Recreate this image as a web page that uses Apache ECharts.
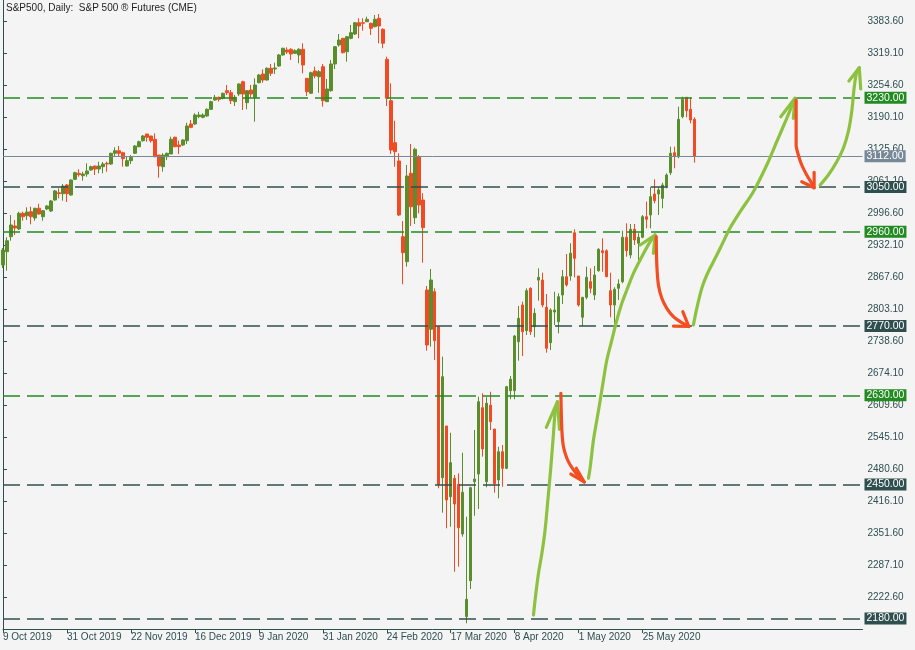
<!DOCTYPE html>
<html><head><meta charset="utf-8">
<script src="https://cdn.jsdelivr.net/npm/echarts@6/dist/echarts.min.js"></script>
<style>html,body{margin:0;padding:0;background:#f4f4f4;}#c{width:915px;height:650px;}</style>
</head><body><div id="c"></div>
<script>
// ---------- DATA ----------
const startDate = '2019-10-09';
const skippedDays = ['2019-12-25', '2020-01-01', '2020-04-10'];
const candleCount = 174;
const totalSlots = 216;
const dateTickEvery = 16;

const opens = [2892.8,2919.6,2949.9,2971.5,2965.4,2997.1,2992.2,3000.3,2987.6,3007.2,
2990.2,3005.8,3001.7,3023.9,3038.5,3036.6,3054.2,3034.0,3065.6,3077.8,
3072.9,3076.3,3084.4,3092.5,3086.4,3091.1,3097.9,3096.5,3118.1,3123.3,
3119.3,3092.5,3103.2,3118.1,3131.4,3143.5,3157.0,3153.0,3146.3,3114.6,
3091.1,3111.2,3116.7,3150.4,3134.8,3134.8,3143.5,3177.2,3177.2,3192.0,
3190.7,3193.3,3206.8,3225.6,3231.0,3229.0,3244.4,3240.3,3222.2,3237.7,
3262.5,3220.2,3245.8,3231.0,3260.5,3278.1,3265.9,3289.5,3288.1,3294.2,
3316.4,3326.5,3327.9,3319.7,3316.4,3327.9,3269.4,3239.1,3284.1,3272.6,
3292.8,3222.2,3244.4,3298.2,3336.5,3350.0,3323.0,3350.0,3358.7,3381.5,
3381.5,3383.5,3380.3,3373.5,3390.4,3368.2,3307.7,3224.2,3139.5,3102.6,
2949.9,2899.5,3077.8,2988.2,3111.2,3023.9,2842.4,2763.1,2839.0,2768.3,
2463.8,2568.1,2425.5,2462.6,2450.5,2350.2,2183.5,2256.0,2455.7,2471.2,
2605.0,2455.7,2610.0,2562.0,2459.2,2516.2,2482.7,2639.3,2639.3,2738.1,
2812.1,2760.3,2845.8,2768.3,2862.3,2862.5,2807.5,2736.1,2798.0,2778.4,
2832.3,2869.2,2870.6,2957.9,2870.6,2787.3,2827.7,2859.1,2832.3,2881.3,
2921.5,2921.5,2841.0,2812.1,2845.8,2859.1,2948.7,2913.0,2964.8,2936.6,
2948.7,2990.2,2993.6,3036.0,3036.0,3027.3,3052.1,3079.0,3119.3,3111.2,
3191.9,3231.0,3206.8,3186.7];

const closes = [2923.0,2941.8,2973.5,2967.4,2997.1,2990.2,2999.7,2990.2,3007.2,2995.7,
3002.3,3011.8,3021.9,3042.1,3037.0,3052.1,3036.6,3064.2,3079.0,3074.9,
3076.3,3082.4,3091.1,3086.4,3092.5,3096.5,3096.5,3118.1,3123.3,3118.1,
3107.2,3103.2,3110.0,3132.8,3141.5,3153.0,3150.4,3143.5,3111.2,3092.5,
3114.6,3118.1,3146.3,3131.4,3131.4,3145.0,3173.2,3170.5,3195.4,3195.4,
3195.4,3206.8,3222.2,3231.0,3227.0,3239.1,3240.3,3224.2,3231.0,3257.9,
3237.7,3244.4,3237.7,3255.9,3276.0,3265.9,3289.5,3279.5,3290.2,3316.4,
3329.9,3322.4,3318.4,3325.1,3327.9,3296.2,3242.3,3280.7,3274.0,3282.7,
3224.2,3247.8,3298.2,3333.1,3346.6,3321.0,3353.3,3361.4,3381.5,3374.9,
3380.3,3388.4,3370.2,3388.4,3374.9,3340.0,3229.0,3124.8,3121.3,2993.6,
2917.6,3072.3,3010.4,3126.2,3013.8,2968.0,2731.4,2862.5,2740.1,2450.0,
2667.5,2418.8,2494.1,2410.7,2362.9,2434.3,2218.5,2443.6,2461.0,2617.1,
2521.7,2613.8,2576.7,2452.0,2516.2,2482.7,2647.3,2662.3,2749.6,2785.3,
2758.2,2841.0,2758.2,2795.4,2867.9,2812.1,2724.8,2802.1,2802.0,2828.9,
2869.2,2852.5,2916.4,2906.3,2812.1,2827.7,2868.0,2845.8,2872.6,2924.5,
2917.6,2869.2,2812.1,2843.8,2854.5,2948.7,2921.6,2964.8,2943.2,2948.7,
2990.2,2985.0,3030.6,3022.5,3044.1,3054.2,3074.3,3118.1,3112.6,3186.7,
3227.0,3204.0,3185.3,3112.0];

const lows = [2886.7,2881.3,2941.8,2953.3,2963.4,2982.2,2983.6,2974.9,2982.0,2994.0,
2982.2,3003.7,2999.7,3022.5,3027.3,3022.5,3019.9,3032.6,3064.2,3070.9,
3062.8,3070.9,3083.0,3074.3,3077.8,3077.8,3081.0,3094.5,3111.2,3111.2,
3091.1,3091.1,3096.5,3116.7,3130.2,3141.5,3141.5,3139.5,3110.0,3068.9,
3081.0,3104.6,3116.7,3130.2,3116.7,3132.8,3136.9,3168.5,3175.2,3188.7,
3188.7,3191.9,3205.4,3224.2,3222.2,3227.0,3235.7,3217.5,3213.5,3233.7,
3205.4,3206.8,3231.0,3181.8,3259.3,3260.5,3264.5,3274.0,3278.1,3292.8,
3315.0,3318.4,3306.3,3318.4,3299.6,3279.5,3233.7,3237.7,3269.4,3240.3,
3212.1,3221.6,3242.3,3288.1,3333.1,3319.7,3302.9,3348.0,3356.7,3350.0,
3365.4,3383.5,3356.7,3372.2,3340.0,3329.9,3213.5,3116.7,3091.1,2991.6,
2853.9,2889.4,2971.5,2975.5,2997.1,2897.4,2719.9,2728.0,2701.2,2442.4,
2393.2,2361.7,2364.9,2274.2,2284.3,2344.8,2170.1,2239.3,2387.0,2400.7,
2506.2,2444.4,2560.0,2433.5,2422.2,2445.6,2481.0,2621.9,2621.9,2699.8,
2709.3,2751.6,2751.6,2747.0,2820.8,2807.5,2715.9,2721.4,2771.8,2755.0,
2814.1,2849.1,2861.2,2868.0,2808.7,2769.7,2823.6,2835.7,2822.0,2879.3,
2879.3,2868.0,2787.3,2771.8,2822.2,2855.9,2909.5,2906.3,2933.1,2902.9,
2946.6,2966.8,2966.8,3017.2,2993.6,3007.2,3047.5,3074.3,3087.8,3108.0,
3188.7,3190.7,3178.6,3099.1];

const highs = [2927.0,2948.7,2993.6,2983.6,3000.3,3000.3,3009.2,3010.4,3008.0,3016.4,
3003.7,3013.8,3023.9,3044.1,3047.5,3056.2,3056.2,3065.6,3081.0,3085.8,
3081.0,3097.9,3093.1,3093.0,3101.2,3100.6,3101.2,3119.3,3130.2,3132.9,
3121.3,3111.2,3114.6,3134.8,3143.5,3155.0,3157.0,3153.0,3158.4,3114.6,
3118.1,3119.3,3151.6,3151.6,3143.5,3146.3,3179.8,3185.3,3198.8,3202.0,
3198.8,3208.8,3224.2,3235.7,3232.3,3240.3,3255.9,3245.8,3235.7,3259.3,
3264.5,3245.8,3255.9,3269.4,3278.1,3287.5,3291.6,3298.2,3300.8,3318.4,
3331.1,3331.9,3329.9,3327.9,3329.9,3340.0,3269.4,3282.7,3292.8,3286.1,
3298.2,3268.0,3306.3,3334.5,3358.7,3350.0,3354.7,3376.9,3382.9,3390.4,
3390.4,3393.6,3381.5,3397.0,3399.1,3370.2,3312.9,3259.3,3183.8,3118.1,
2981.5,3094.5,3136.9,3129.4,3114.6,3037.4,2850.4,2884.7,2845.8,2768.3,
2707.9,2568.1,2554.5,2469.2,2472.7,2514.2,2385.1,2445.6,2560.0,2627.2,
2634.0,2626.0,2637.2,2562.0,2526.3,2529.7,2649.0,2668.9,2751.6,2810.1,
2818.8,2845.8,2847.9,2805.5,2886.1,2877.3,2834.3,2805.5,2838.9,2835.7,
2882.7,2915.0,2936.6,2964.8,2870.6,2827.7,2889.4,2886.1,2890.8,2926.5,
2946.6,2924.5,2877.3,2847.9,2863.9,2962.0,2976.9,2975.5,2975.5,2956.8,
2993.6,3020.5,3050.7,3065.6,3049.5,3058.8,3077.8,3131.4,3131.4,3212.1,
3232.3,3231.0,3231.0,3190.7];

const priceTicks = [2222.6,2287.1,2351.6,2416.1,2480.6,2545.1,2609.6,2674.1,2738.6,2803.1,
2867.6,2932.1,2996.6,3061.1,3125.6,3190.1,3254.6,3319.1,3383.6];
const yMin = 2158.6, yMax = 3427.3;

// horizontal levels: value, kind
const levelValues = [3230, 3112, 3050, 2960, 2770, 2630, 2450, 2180];
const levelKinds  = ['support', 'price', 'resist', 'support', 'resist', 'support', 'resist', 'resist'];

// annotation arrows (x = bar index, y = price)
const greenArrow1 = [[132.7,2186.8],[133.1,2217.1],[133.95,2270.9],[134.8,2311.3],[135.6,2358.3],[136.45,2432.3],[137.05,2485.9],[137.7,2553.3],[138.1,2593.7],[138.7,2617.1]];
const greenHead1  = [[135.9,2565.4],[138.7,2617.1],[139.2,2561.4]];
const redArrow1   = [[139.55,2634.0],[139.8,2560.0],[140.2,2526.3],[141.05,2502.9],[141.9,2489.4],[143.1,2475.3],[144.4,2462.6],[145.4,2455.1]];
const redHead1    = [[143.4,2482.8],[145.4,2455.1],[142.05,2471.2]];
const greenArrow2 = [[146.45,2462.6],[146.9,2486.0],[147.7,2539.8],[148.55,2580.2],[149.4,2620.5],[150.2,2661.0],[151.05,2701.2],[152.3,2741.5],[153.55,2781.9],[154.8,2815.5],[156.05,2842.4],[157.7,2876.0],[159.8,2909.6],[161.9,2939.8],[163.1,2953.3]];
const greenHead2  = [[159.4,2933.1],[163.1,2953.3],[162.7,2916.4]];
const redArrow2   = [[163.4,2949.9],[163.55,2892.8],[163.95,2852.5],[164.8,2825.6],[166.05,2805.5],[167.7,2788.5],[169.4,2778.4],[171.55,2768.7]];
const redHead2    = [[170.05,2798.6],[171.55,2768.7],[167.7,2769.7]];
const greenArrow3 = [[172.7,2771.8],[173.55,2805.5],[174.8,2845.8],[176.05,2872.6],[177.7,2899.5],[179.4,2926.5],[181.9,2967.8],[184.4,3000.3],[187.7,3040.6],[191.05,3094.5],[193.55,3141.5],[196.05,3188.7],[198.1,3229.0]];
const greenHead3  = [[194.55,3191.9],[198.1,3229.0],[197.7,3188.7]];
const redArrow3   = [[198.4,3225.6],[198.4,3134.8],[198.95,3114.7],[199.8,3094.5],[201.05,3074.3],[202.3,3057.6],[202.9,3048.7]];
const redHead3    = [[199.8,3060.8],[202.9,3048.7],[202.9,3079.8]];
const greenArrow4 = [[204.4,3054.2],[206.45,3074.3],[208.55,3101.2],[210.2,3128.2],[211.45,3161.7],[212.3,3202.0],[212.9,3249.2],[213.55,3282.7],[214.2,3290.8]];
const greenHead4  = [[211.6,3263.9],[214.2,3290.8],[214.55,3247.8]];

// ---------- BUILD ----------
const MONTHS = ['Jan','Feb','Mar','Apr','May','Jun','Jul','Aug','Sep','Oct','Nov','Dec'];
function buildDates() {
  const out = [];
  const d = new Date(startDate + 'T00:00:00Z');
  while (out.length < candleCount) {
    const wd = d.getUTCDay();
    const iso = d.toISOString().slice(0, 10);
    if (wd !== 0 && wd !== 6 && skippedDays.indexOf(iso) < 0) {
      out.push(d.getUTCDate() + ' ' + MONTHS[d.getUTCMonth()] + ' ' + d.getUTCFullYear());
    }
    d.setUTCDate(d.getUTCDate() + 1);
  }
  return out;
}
const dates = buildDates();
const categories = dates.concat(new Array(totalSlots - dates.length).fill(''));
const candles = opens.map((o, i) => [o, closes[i], lows[i], highs[i]]);

const UP = '#5a8e2c', DOWN = '#f24b24';
const ARROW_G = '#8cc23f', ARROW_R = '#f44d22';
const AXIS = '#2f4f4f';
const FONT = 'Liberation Sans';
const levelStyle = {
  support: { color: '#228b22', type: [17, 7], width: 1.5, bg: '#228b22' },
  resist:  { color: '#2f4f4f', type: [17, 7], width: 1.5, bg: '#2f4f4f' },
  price:   { color: '#778899', type: 'solid', width: 1, bg: '#778899' }
};

const markData = levelValues.map((v, i) => {
  const s = levelStyle[levelKinds[i]];
  return {
    yAxis: v,
    lineStyle: { color: s.color, type: s.type, width: s.width },
    label: {
      show: true, position: 'end', distance: 2,
      formatter: v.toFixed(2),
      color: '#ffffff', backgroundColor: s.bg,
      fontFamily: FONT, fontSize: 10.5, lineHeight: 11,
      padding: [1, 2, 0, 2]
    }
  };
});

function arrowSeries(pts, color) {
  return {
    type: 'line', xAxisIndex: 1, yAxisIndex: 0, data: pts,
    smooth: 0.3, showSymbol: false, symbol: 'none', silent: true,
    lineStyle: { color: color, width: 3.2, cap: 'round', join: 'round' },
    animation: false, z: 5
  };
}
function headSeries(pts, color) {
  return {
    type: 'line', xAxisIndex: 1, yAxisIndex: 0, data: pts,
    smooth: false, showSymbol: false, symbol: 'none', silent: true,
    lineStyle: { color: color, width: 3.2, cap: 'round', join: 'round' },
    animation: false, z: 5
  };
}

const chart = echarts.init(document.getElementById('c'), null, { renderer: 'canvas' });
chart.setOption({
  backgroundColor: '#f4f4f4',
  animation: false,
  textStyle: { fontFamily: FONT },
  graphic: [{
    type: 'text', left: 6, top: 3, silent: true,
    style: { text: 'S&P500, Daily:  S&P 500 \u00AE Futures (CME)', fill: '#1e1e1e', font: '10px "Liberation Sans"' }
  }],
  grid: { left: 2.5, right: 52.5, top: 0, bottom: 21, containLabel: false },
  xAxis: [{
    type: 'category', data: categories, boundaryGap: false,
    axisLine: { show: true, lineStyle: { color: AXIS, width: 1 } },
    axisTick: { show: true, length: 4, lineStyle: { color: AXIS },
      interval: (idx) => idx % dateTickEvery === 0 && idx < candleCount },
    axisLabel: { show: true, color: AXIS, fontSize: 10, fontFamily: FONT, align: 'left', margin: 3,
      interval: (idx) => idx % dateTickEvery === 0 && idx < candleCount },
    splitLine: { show: false }
  }, {
    type: 'value', min: 0, max: totalSlots - 1, show: false
  }],
  yAxis: [{
    type: 'value', position: 'right', min: yMin, max: yMax, scale: true,
    axisLine: { show: true, lineStyle: { color: AXIS, width: 1 } },
    axisTick: { show: true, length: 4, lineStyle: { color: AXIS }, customValues: priceTicks },
    axisLabel: { show: true, color: AXIS, fontSize: 10, fontFamily: FONT, margin: 5,
      customValues: priceTicks, formatter: (v) => Number(v).toFixed(2) },
    splitLine: { show: false }
  }, {
    type: 'value', position: 'left', min: yMin, max: yMax,
    axisLine: { show: true, lineStyle: { color: AXIS, width: 1 } },
    axisTick: { show: false }, axisLabel: { show: false }, splitLine: { show: false }
  }],
  series: [
    {
      type: 'candlestick', xAxisIndex: 0, yAxisIndex: 0, data: candles,
      barWidth: 3,
      itemStyle: { color: UP, color0: DOWN, borderColor: UP, borderColor0: DOWN, borderWidth: 1 },
      markLine: { silent: true, symbol: ['none', 'none'], animation: false, data: markData }
    },
    arrowSeries(greenArrow1, ARROW_G), headSeries(greenHead1, ARROW_G),
    arrowSeries(redArrow1, ARROW_R), headSeries(redHead1, ARROW_R),
    arrowSeries(greenArrow2, ARROW_G), headSeries(greenHead2, ARROW_G),
    arrowSeries(redArrow2, ARROW_R), headSeries(redHead2, ARROW_R),
    arrowSeries(greenArrow3, ARROW_G), headSeries(greenHead3, ARROW_G),
    arrowSeries(redArrow3, ARROW_R), headSeries(redHead3, ARROW_R),
    arrowSeries(greenArrow4, ARROW_G), headSeries(greenHead4, ARROW_G)
  ]
});
</script></body></html>
